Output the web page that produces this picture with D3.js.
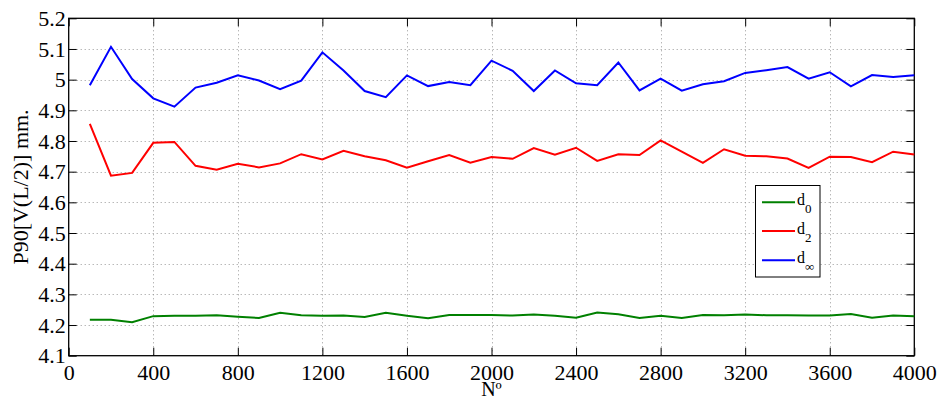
<!DOCTYPE html>
<html>
<head>
<meta charset="utf-8">
<script src="https://cdn.jsdelivr.net/npm/d3@7"></script>
<style>
  html, body { margin: 0; padding: 0; background: #fff; }
  svg { display: block; }
</style>
</head>
<body>
<svg id="chart" width="938" height="400"></svg>
<script>
// Sample counts (N) along the horizontal axis
const nSamples = [100, 200, 300, 400, 500, 600, 700, 800, 900, 1000,
  1100, 1200, 1300, 1400, 1500, 1600, 1700, 1800, 1900, 2000,
  2100, 2200, 2300, 2400, 2500, 2600, 2700, 2800, 2900, 3000,
  3100, 3200, 3300, 3400, 3500, 3600, 3700, 3800, 3900, 4000];

// P90 of V(L/2) in mm for each distance
const d0 = [4.217, 4.217, 4.209, 4.229, 4.230, 4.230, 4.232, 4.227, 4.223, 4.240,
  4.232, 4.230, 4.231, 4.226, 4.240, 4.230, 4.222, 4.233, 4.233, 4.233,
  4.231, 4.234, 4.230, 4.224, 4.241, 4.235, 4.223, 4.230, 4.223, 4.233,
  4.232, 4.234, 4.232, 4.232, 4.231, 4.231, 4.236, 4.224, 4.231, 4.229];

const d2 = [4.856, 4.687, 4.696, 4.794, 4.797, 4.719, 4.706, 4.726, 4.714, 4.727,
  4.757, 4.740, 4.768, 4.750, 4.737, 4.713, 4.734, 4.754, 4.729, 4.748,
  4.742, 4.777, 4.755, 4.778, 4.735, 4.757, 4.754, 4.802, 4.765, 4.729,
  4.773, 4.752, 4.750, 4.743, 4.712, 4.749, 4.748, 4.731, 4.765, 4.756];

const dInf = [4.982, 5.107, 5.002, 4.939, 4.912, 4.974, 4.990, 5.014, 4.997, 4.969,
  4.997, 5.089, 5.030, 4.963, 4.943, 5.014, 4.979, 4.992, 4.982, 5.062,
  5.029, 4.963, 5.030, 4.988, 4.982, 5.056, 4.965, 5.003, 4.964, 4.985,
  4.995, 5.022, 5.031, 5.041, 5.003, 5.024, 4.978, 5.015, 5.009, 5.014];

const xTicks = [0, 400, 800, 1200, 1600, 2000, 2400, 2800, 3200, 3600, 4000];
const yTicks = [4.1, 4.2, 4.3, 4.4, 4.5, 4.6, 4.7, 4.8, 4.9, 5.0, 5.1, 5.2];

const seriesList = [
  { sub: "0", values: d0, color: "#008000" },
  { sub: "2", values: d2, color: "#ff0000" },
  { sub: "\u221E", values: dInf, color: "#0000ff" }
];

const FONT = '"Liberation Serif", "Times New Roman", serif';
const svg = d3.select("#chart");
const plotL = 68.7, plotR = 914.3, plotT = 18.3, plotB = 355.7;

const x = d3.scaleLinear().domain([0, 4000]).range([plotL, plotR]);
const y = d3.scaleLinear().domain([4.1, 5.2]).range([plotB, plotT]);

const fmtY = v => d3.format(".1f")(v).replace(/\.0$/, "");

// Dotted grid
const grid = svg.append("g").attr("stroke", "#999").attr("stroke-width", 1)
  .attr("stroke-dasharray", "1,3");
grid.selectAll("line.gx").data(xTicks.slice(1, -1)).join("line")
  .attr("x1", d => Math.round(x(d)) + 0.5).attr("x2", d => Math.round(x(d)) + 0.5)
  .attr("y1", plotT).attr("y2", plotB);
grid.selectAll("line.gy").data(yTicks.slice(1, -1)).join("line")
  .attr("x1", plotL).attr("x2", plotR)
  .attr("y1", d => Math.round(y(d)) + 0.5).attr("y2", d => Math.round(y(d)) + 0.5);

// Axes with inward ticks on all four sides
const tickLen = 8;
const axisBottom = d3.axisBottom(x).tickValues(xTicks).tickSize(-tickLen).tickFormat(d3.format("d"));
const axisTop = d3.axisTop(x).tickValues(xTicks).tickSize(-tickLen).tickFormat("");
const axisLeft = d3.axisLeft(y).tickValues(yTicks).tickSize(-tickLen).tickFormat(fmtY);
const axisRight = d3.axisRight(y).tickValues(yTicks).tickSize(-tickLen).tickFormat("");

function styleAxis(g) {
  g.select(".domain").remove();
  g.selectAll(".tick line").attr("stroke", "#000").attr("stroke-width", 1);
  g.selectAll("text").style("font-family", FONT).style("font-size", "22px").attr("fill", "#000");
}

svg.append("g").attr("transform", `translate(0,${plotB})`).call(axisBottom).call(styleAxis)
  .selectAll("text").attr("dy", "0.71em").attr("y", 9);
svg.append("g").attr("transform", `translate(0,${plotT})`).call(axisTop).call(styleAxis);
svg.append("g").attr("transform", `translate(${plotL},0)`).call(axisLeft).call(styleAxis)
  .selectAll("text").attr("x", -3);
svg.append("g").attr("transform", `translate(${plotR},0)`).call(axisRight).call(styleAxis);

// Frame
svg.append("rect")
  .attr("x", plotL).attr("y", plotT).attr("width", plotR - plotL).attr("height", plotB - plotT)
  .attr("fill", "none").attr("stroke", "#000").attr("stroke-width", 1.3);

// Lines
const line = d3.line().x((d, i) => x(nSamples[i])).y(d => y(d));
svg.append("g").selectAll("path").data(seriesList).join("path")
  .attr("d", s => line(s.values))
  .attr("fill", "none").attr("stroke", s => s.color).attr("stroke-width", 2)
  .attr("stroke-linejoin", "miter");

// Axis titles
svg.append("text").attr("x", (plotL + plotR) / 2).attr("y", 396)
  .attr("text-anchor", "middle").style("font-family", FONT).style("font-size", "20px").text("N\u00BA");
svg.append("text")
  .attr("transform", `translate(28,${(plotT + plotB) / 2}) rotate(-90)`)
  .attr("text-anchor", "middle").style("font-family", FONT).style("font-size", "22px").text("P90[V(L/2)] mm.");

// Legend
const lg = svg.append("g");
lg.append("rect").attr("x", 755.5).attr("y", 185.5).attr("width", 64.5).attr("height", 91.5)
  .attr("fill", "#fff").attr("stroke", "#000").attr("stroke-width", 1);
const rowY = [202.3, 231, 260.3];
seriesList.forEach((s, i) => {
  lg.append("line").attr("x1", 762).attr("x2", 795).attr("y1", rowY[i]).attr("y2", rowY[i])
    .attr("stroke", s.color).attr("stroke-width", 2);
  const t = lg.append("text").attr("x", 797).attr("y", rowY[i] + 3)
    .style("font-family", FONT).style("font-size", "16px");
  t.append("tspan").text("d");
  t.append("tspan").style("font-size", "13px").attr("dy", 8).text(s.sub);
});
</script>
</body>
</html>
